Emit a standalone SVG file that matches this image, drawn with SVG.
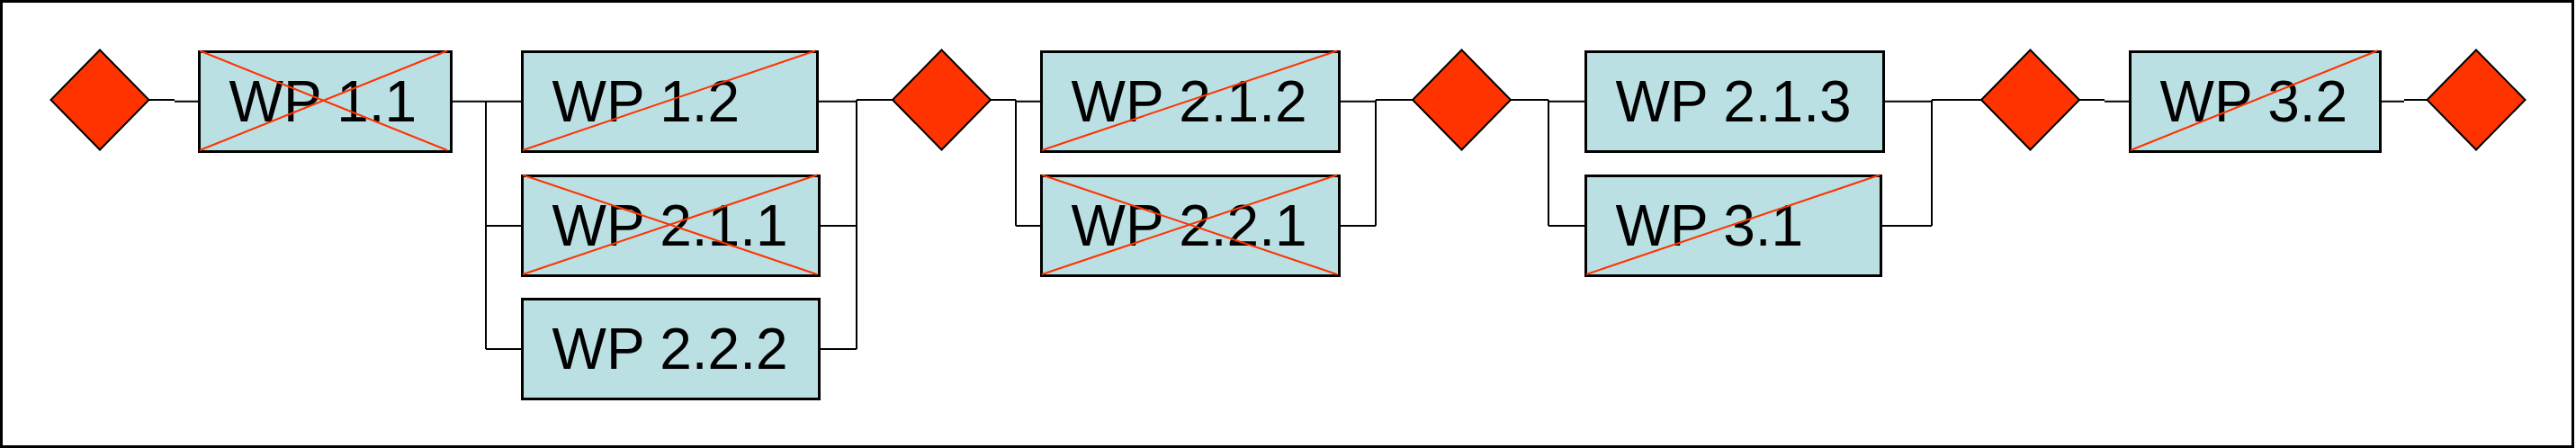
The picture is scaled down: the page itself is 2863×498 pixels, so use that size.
<svg xmlns="http://www.w3.org/2000/svg" width="2863" height="498" viewBox="0 0 2863 498">
<defs>
<style>
.frame{fill:#fff;stroke:#000;stroke-width:3}
.box{fill:#BAE0E3;stroke:#000;stroke-width:3}
.dia{fill:#FF3300;stroke:#000;stroke-width:2;stroke-linejoin:miter}
.x{stroke:#FF3300;stroke-width:2;fill:none}
.lbl{font-family:"Liberation Sans",Arial,sans-serif;font-size:64px;fill:#000}
.con{stroke:#000;stroke-width:2;fill:none}
</style>
<polygon id="dshape" points="0,-55.5 54.5,0 0,55.5 -54.5,0"/>
</defs>
<rect class="frame" x="1.5" y="1.5" width="2858" height="495"/>

<g id="connectors">
<path class="con" d="M166 111 H194 M194 112.7 H221"/>
<path class="con" d="M502 112.7 H580 M540 112.7 V388 M540 251 H580 M540 388 H580"/>
<path class="con" d="M910 112.7 H952 M912 251 H952 M912 388 H952 M952 111 V388 M952 111 H992"/>
<path class="con" d="M1101 111 H1129 M1129 111 V251 M1129 112.7 H1157 M1129 251 H1157"/>
<path class="con" d="M1490 112.7 H1529 M1490 251 H1529 M1529 111 V251 M1529 111 H1570"/>
<path class="con" d="M1679 111 H1721 M1721 111 V251 M1721 112.7 H1762 M1721 251 H1762"/>
<path class="con" d="M2095 112.7 H2147 M2092 251 H2147 M2147 111 V251 M2147 111 H2202"/>
<path class="con" d="M2311 111 H2339 M2339 112.7 H2367"/>
<path class="con" d="M2647 112.7 H2672 M2672 111 H2697"/>
</g>

<g id="m1"><use href="#dshape" class="dia" x="111" y="111"/></g>
<g id="m2"><use href="#dshape" class="dia" x="1046.5" y="111"/></g>
<g id="m3"><use href="#dshape" class="dia" x="1624.5" y="111"/></g>
<g id="m4"><use href="#dshape" class="dia" x="2256.5" y="111"/></g>
<g id="m5"><use href="#dshape" class="dia" x="2752" y="111"/></g>

<g id="wp11">
<rect class="box" x="221.5" y="57.5" width="280" height="111"/>
<text class="lbl" x="254.5" y="135">WP 1.1</text>
<line class="x" x1="222" y1="56.5" x2="497" y2="167"/>
<line class="x" x1="222" y1="167" x2="497" y2="56.5"/>
</g>

<g id="wp12">
<rect class="box" x="580.5" y="57.5" width="328" height="111"/>
<text class="lbl" x="613.5" y="135">WP 1.2</text>
<line class="x" x1="581" y1="167" x2="906" y2="56.5"/>
</g>

<g id="wp211">
<rect class="box" x="580.5" y="195.5" width="330" height="111"/>
<text class="lbl" x="613.5" y="272.5">WP 2.1.1</text>
<line class="x" x1="581" y1="194.5" x2="908" y2="305"/>
<line class="x" x1="581" y1="305" x2="908" y2="194.5"/>
</g>

<g id="wp222">
<rect class="box" x="580.5" y="332.5" width="330" height="111"/>
<text class="lbl" x="613.5" y="410">WP 2.2.2</text>
</g>

<g id="wp212">
<rect class="box" x="1157.5" y="57.5" width="331" height="111"/>
<text class="lbl" x="1190.5" y="135">WP 2.1.2</text>
<line class="x" x1="1158" y1="167" x2="1486" y2="56.5"/>
</g>

<g id="wp221">
<rect class="box" x="1157.5" y="195.5" width="331" height="111"/>
<text class="lbl" x="1190.5" y="272.5">WP 2.2.1</text>
<line class="x" x1="1158" y1="194.5" x2="1486" y2="305"/>
<line class="x" x1="1158" y1="305" x2="1486" y2="194.5"/>
</g>

<g id="wp213">
<rect class="box" x="1762.5" y="57.5" width="331" height="111"/>
<text class="lbl" x="1795.5" y="135">WP 2.1.3</text>
</g>

<g id="wp31">
<rect class="box" x="1762.5" y="195.5" width="328" height="111"/>
<text class="lbl" x="1795.5" y="272.5">WP 3.1</text>
<line class="x" x1="1763" y1="305" x2="2089" y2="194.5"/>
</g>

<g id="wp32">
<rect class="box" x="2367.5" y="57.5" width="278" height="111"/>
<text class="lbl" x="2400.5" y="135">WP 3.2</text>
<line class="x" x1="2368" y1="167" x2="2642" y2="56.5"/>
</g>
</svg>
